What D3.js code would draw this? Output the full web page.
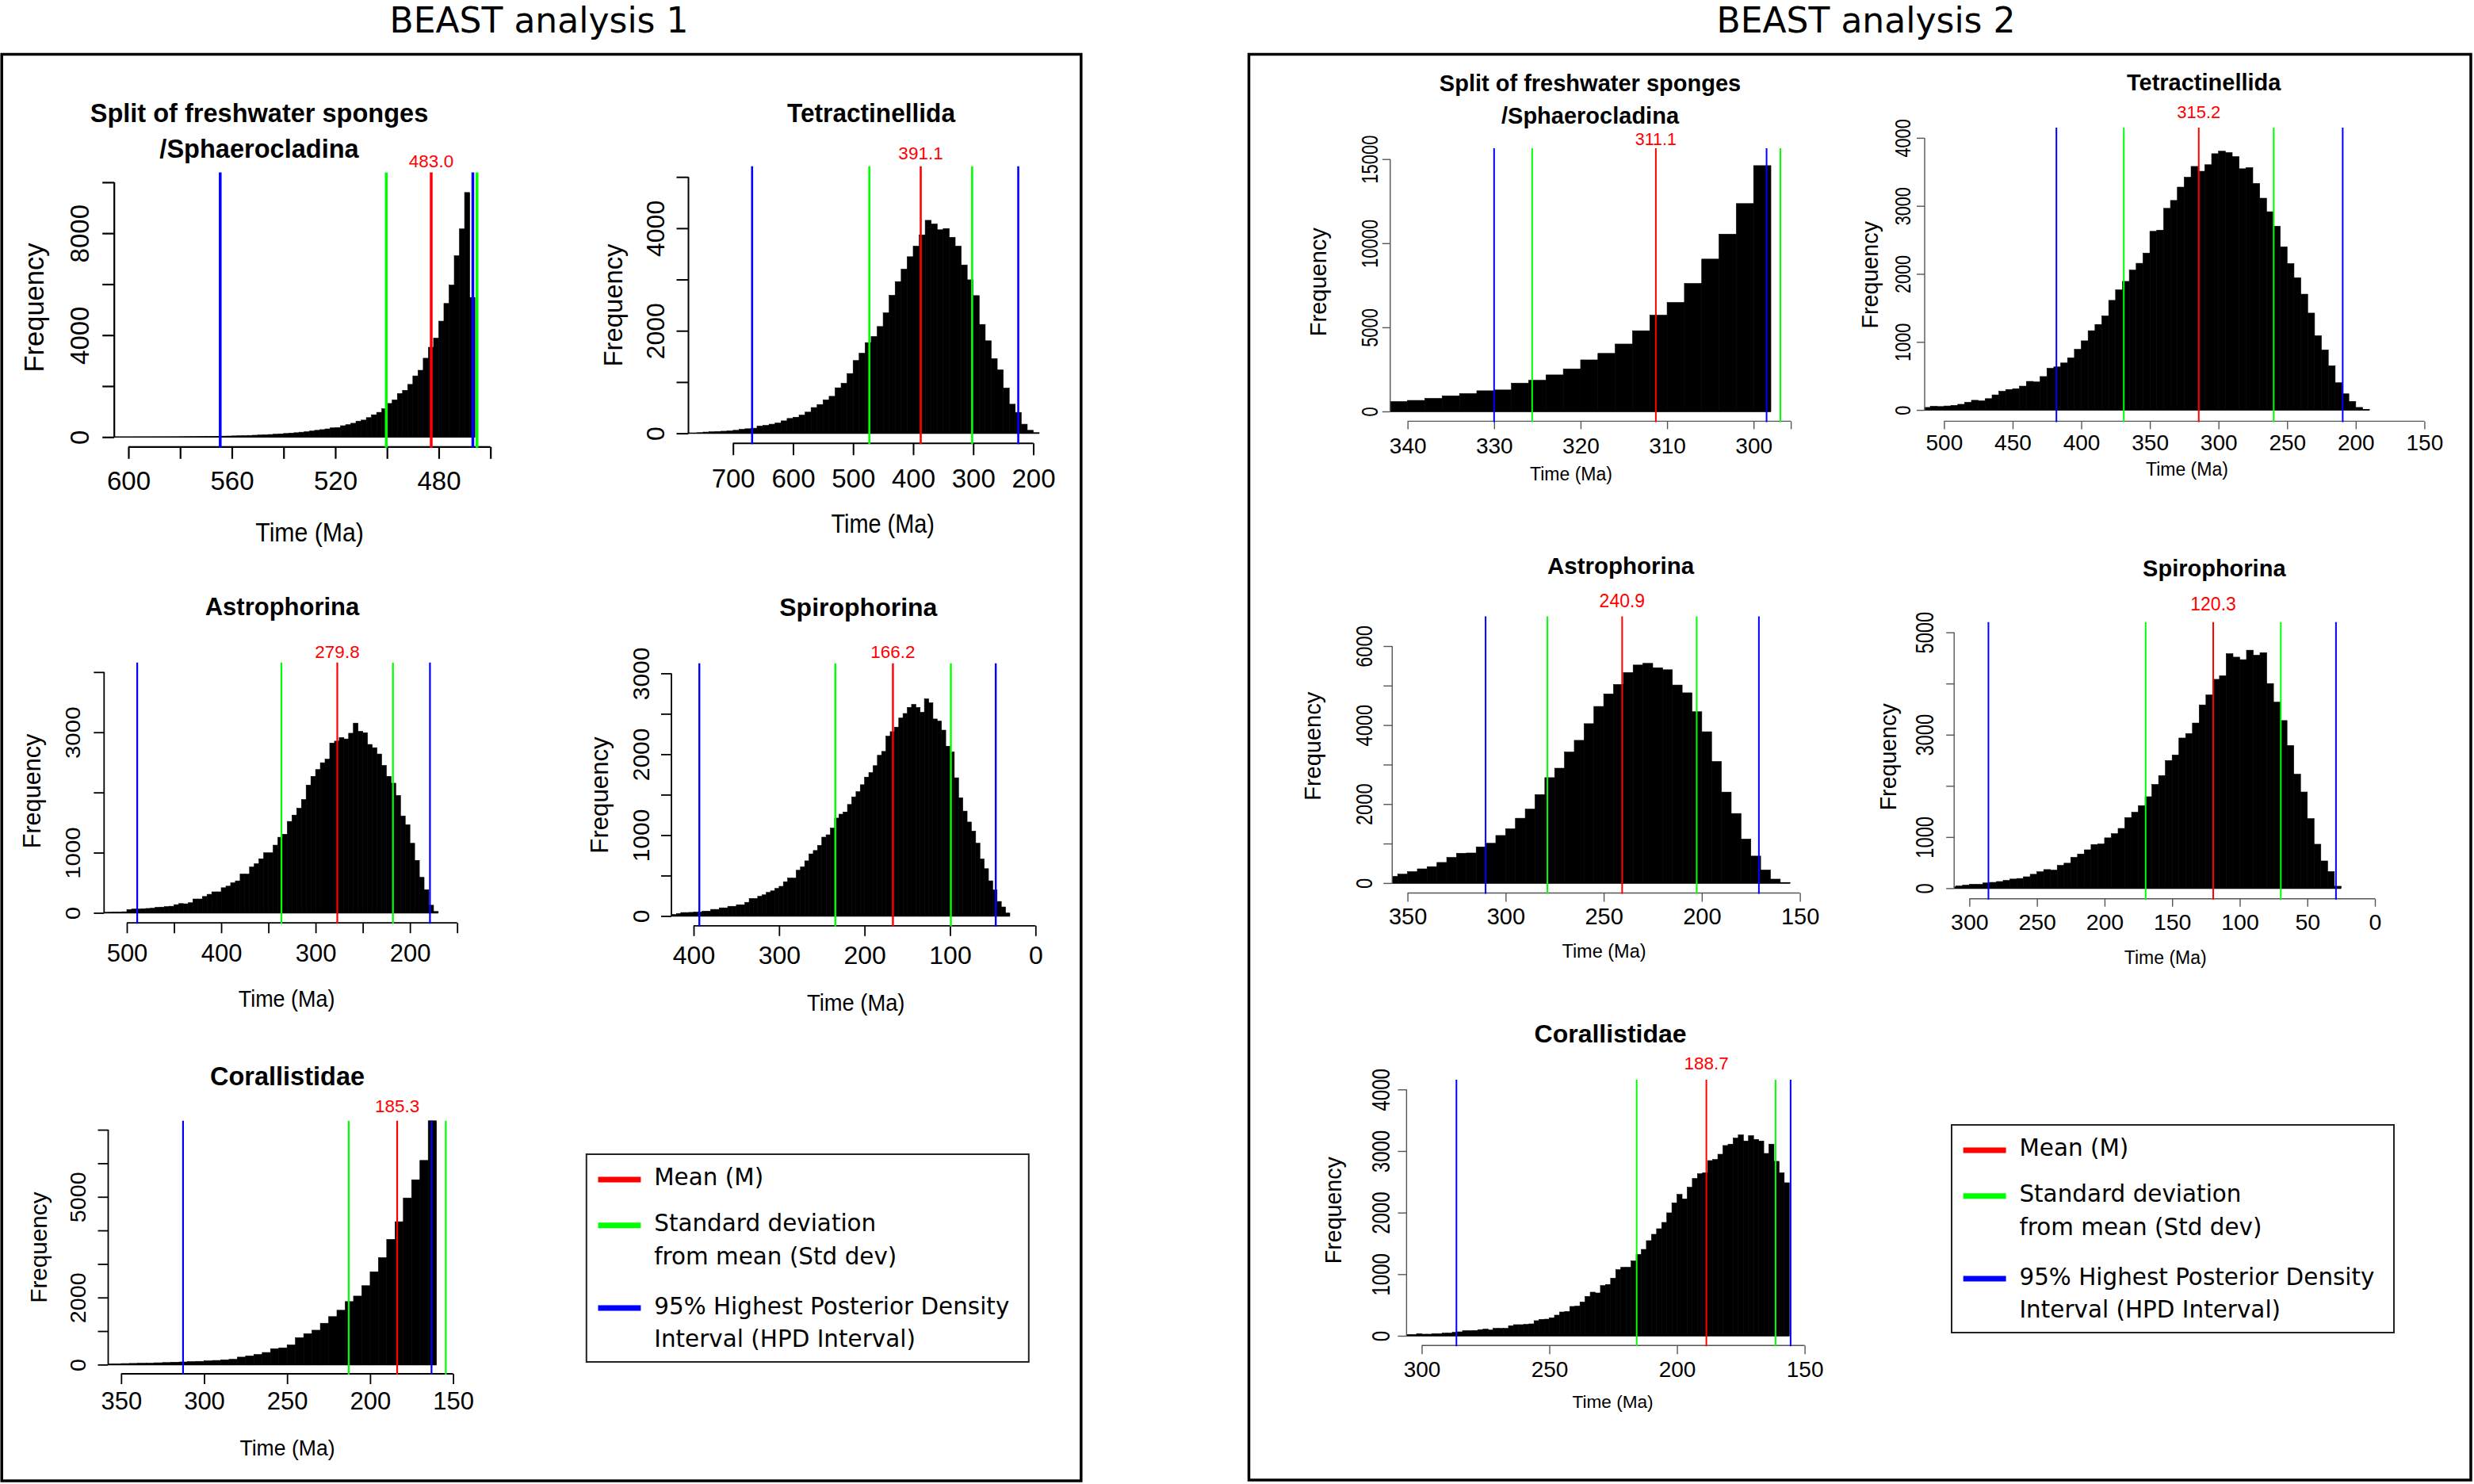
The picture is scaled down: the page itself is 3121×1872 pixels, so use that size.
<!DOCTYPE html>
<html>
<head>
<meta charset="utf-8">
<script src="https://cdnjs.cloudflare.com/ajax/libs/d3/7.8.5/d3.min.js"></script>
<style>
  html, body { margin: 0; padding: 0; background: #fff; }
  svg { display: block; }
</style>
</head>
<body>
<svg id="fig" width="3121" height="1872"></svg>
<script>
// ---------- data ----------
// bins: [oldest bin edge (Ma), bin width (Ma)], counts listed from oldest to youngest bin

// BEAST analysis 1
var a1SplitBins = [606, 2];
var a1SplitCounts = [1, 1, 2, 2, 3, 3, 4, 5, 6, 7, 8, 9, 10, 12, 14, 16, 18, 21, 24, 27, 31, 35, 40, 45, 50, 57, 64, 72, 80, 90,
  100, 112, 125, 140, 155, 170, 190, 208, 236, 264, 291, 319, 360, 374, 444, 485, 541, 624, 666, 763,
  874, 970, 1110, 1318, 1456, 1706, 1831, 2067, 2400, 2621, 3093, 3523, 3883, 4549, 5243, 5964, 7115, 8169, 9598, 5478];
var a1SplitHPD = [564.5, 466.8], a1SplitSD = [500.3, 465.2], a1SplitMean = 482.9;

var a1TetBins = [780, 10];
var a1TetCounts = [3, 6, 12, 24, 30, 36, 41, 47, 59, 77, 89, 100, 142, 154, 178, 201, 243, 290, 314, 355,
  414, 503, 562, 651, 722, 888, 976, 1166, 1420, 1562, 1769, 1888, 2083, 2349, 2692, 2959, 3201, 3444, 3651, 3870,
  4154, 4083, 3970, 3994, 3822, 3651, 3284, 2994, 2686, 2124, 1805, 1456, 1237, 882, 568, 408, 178, 59, 12];
var a1TetHPD = [668.2, 225], a1TetSD = [473, 301.8], a1TetMean = 387.4;

var a1AstBins = [525, 5];
var a1AstCounts = [9, 10, 14, 14, 18, 54, 63, 63, 68, 73, 77, 91, 95, 104, 110, 136, 154, 150, 168, 230,
  230, 272, 308, 349, 349, 417, 444, 499, 531, 644, 644, 762, 816, 898, 998, 998, 1125, 1256, 1306, 1519,
  1624, 1737, 1882, 2122, 2268, 2381, 2494, 2553, 2821, 2853, 2912, 2889, 2984, 3152, 3016, 2993, 2798, 2744, 2639, 2449,
  2268, 2154, 1950, 1610, 1465, 1156, 871, 590, 385, 127, 23];
var a1AstHPD = [489, 178.8], a1AstSD = [336.2, 218], a1AstMean = 277;

var a1SpiBins = [425, 5];
var a1SpiCounts = [19, 30, 43, 43, 45, 49, 49, 60, 60, 82, 82, 101, 101, 120, 120, 139, 139, 169, 217, 217,
  244, 262, 292, 311, 341, 367, 424, 469, 469, 566, 607, 682, 768, 810, 873, 975, 1004, 1087, 1211, 1259,
  1286, 1379, 1473, 1537, 1623, 1717, 1773, 1859, 1987, 2035, 2223, 2279, 2335, 2448, 2504, 2579, 2616, 2579, 2519, 2684,
  2635, 2436, 2410, 2298, 2099, 2028, 1709, 1462, 1297, 1162, 1049, 900, 705, 585, 435, 322, 180, 112, 37];
var a1SpiHPD = [393.3, 46.5], a1SpiSD = [234.2, 99], a1SpiMean = 166.8;

var a1CorBins = [360, 5];
var a1CorCounts = [22, 26, 32, 36, 42, 45, 55, 62, 72, 80, 90, 98, 112, 125, 142, 158, 224, 259, 302, 362,
  474, 500, 586, 802, 922, 1026, 1233, 1431, 1621, 1879, 2043, 2353, 2767, 3190, 3733, 4259, 4966, 5509, 6086, 7600];
var a1CorHPD = [312.7, 163], a1CorSD = [212.9, 154.4], a1CorMean = 183.7;

// BEAST analysis 2
var a2SplitBins = [342, 2];
var a2SplitCounts = [589, 657, 774, 926, 1061, 1229, 1279, 1684, 1852, 2172, 2525, 3064, 3451, 4007, 4798, 5724,
  6481, 7609, 9057, 10539, 12357, 14613];
var a2SplitHPD = [330.0, 298.5], a2SplitSD = [325.6, 296.9], a2SplitMean = 311.3;

var a2TetBins = [515, 5];
var a2TetCounts = [37, 54, 50, 58, 67, 83, 112, 142, 133, 166, 221, 275, 300, 312, 350, 420, 412, 491, 612, 633,
  691, 766, 891, 1016, 1165, 1257, 1382, 1611, 1765, 1890, 2056, 2156, 2306, 2626, 2643, 2964, 3080, 3276, 3421, 3580,
  3509, 3605, 3767, 3804, 3784, 3725, 3546, 3563, 3330, 3113, 2914, 2701, 2398, 2152, 1944, 1702, 1424, 1091, 882, 649,
  400, 237, 125, 37, 8];
var a2TetHPD = [418.1, 209.5], a2TetSD = [369, 259.8], a2TetMean = 314.4;

var a2AstBins = [360, 5];
var a2AstCounts = [169, 225, 289, 359, 415, 521, 648, 754, 761, 915, 1007, 1204, 1373, 1641, 1873, 2239, 2669, 2908, 3317, 3613,
  4035, 4472, 4789, 5028, 5331, 5521, 5563, 5451, 5401, 5014, 4817, 4338, 3831, 3077, 2303, 1761, 1113, 683, 331, 99, 14];
var a2AstHPD = [310.2, 170.9], a2AstSD = [278.7, 202.6], a2AstMean = 240.6;

var a2SpiBins = [315, 5];
var a2SpiCounts = [27, 43, 60, 76, 76, 103, 114, 130, 152, 179, 190, 223, 272, 321, 364, 353, 446, 489, 603, 668,
  750, 853, 864, 984, 1065, 1168, 1380, 1484, 1614, 1788, 2027, 2201, 2495, 2603, 2935, 3022, 3228, 3582, 3777, 4082,
  4152, 4582, 4516, 4467, 4652, 4554, 4603, 4000, 3636, 3277, 2788, 2228, 1880, 1359, 859, 533, 326, 38];
var a2SpiHPD = [285.9, 28.8], a2SpiSD = [169.6, 69.6], a2SpiMean = 119.6;

var a2CorBins = [306, 2];
var a2CorCounts = [21, 21, 34, 26, 26, 34, 34, 43, 43, 56, 64, 82, 82, 86, 99, 107, 94, 120, 120, 120,
  163, 180, 180, 185, 193, 245, 266, 270, 292, 335, 386, 395, 476, 481, 549, 639, 708, 695, 815, 833,
  936, 1073, 1112, 1112, 1215, 1322, 1403, 1545, 1648, 1738, 1841, 1996, 2159, 2296, 2223, 2412, 2554, 2631, 2648, 2845,
  2863, 2948, 3090, 3112, 3210, 3262, 3163, 3249, 3189, 3163, 2961, 3112, 2833, 2648, 2485];
var a2CorHPD = [286.4, 155.5], a2CorSD = [215.8, 161.4], a2CorMean = 188.5;

// texts
var analysisTitles = ['BEAST analysis 1', 'BEAST analysis 2'];
var splitTitle = ['Split of freshwater sponges', '/Sphaerocladina'];
var meanLabels1 = ['483.0', '391.1', '279.8', '166.2', '185.3'];
var meanLabels2 = ['311.1', '315.2', '240.9', '120.3', '188.7'];
var legendText = [['Mean (M)'], ['Standard deviation', 'from mean (Std dev)'], ['95% Highest Posterior Density', 'Interval (HPD Interval)']];

// tick values and tick labels
var a1SplitXTicks = [600, 580, 560, 540, 520, 500, 480, 460], a1SplitXLab = [600, 560, 520, 480];
var a1SplitYTicks = [0, 2000, 4000, 6000, 8000, 10000], a1SplitYLab = [0, 4000, 8000];
var a1TetXTicks = [700, 600, 500, 400, 300, 200], a1TetXLab = [700, 600, 500, 400, 300, 200];
var a1TetYTicks = [0, 1000, 2000, 3000, 4000, 5000], a1TetYLab = [0, 2000, 4000];
var a1AstXTicks = [500, 450, 400, 350, 300, 250, 200, 150], a1AstXLab = [500, 400, 300, 200];
var a1AstYTicks = [0, 1000, 2000, 3000, 4000], a1AstYLab = [0, 1000, 3000];
var a1SpiXTicks = [400, 300, 200, 100, 0], a1SpiXLab = [400, 300, 200, 100, 0];
var a1SpiYTicks = [0, 500, 1000, 1500, 2000, 2500, 3000], a1SpiYLab = [0, 1000, 2000, 3000];
var a1CorXTicks = [350, 300, 250, 200, 150], a1CorXLab = [350, 300, 250, 200, 150];
var a1CorYTicks = [0, 1000, 2000, 3000, 4000, 5000, 6000, 7000], a1CorYLab = [0, 2000, 5000];
var a2SplitXTicks = [340, 330, 320, 310, 300, 295.7], a2SplitXLab = [340, 330, 320, 310, 300];
var a2SplitYTicks = [0, 5000, 10000, 15000], a2SplitYLab = [0, 5000, 10000, 15000];
var a2TetXTicks = [500, 450, 400, 350, 300, 250, 200, 150], a2TetXLab = [500, 450, 400, 350, 300, 250, 200, 150];
var a2TetYTicks = [0, 1000, 2000, 3000, 4000], a2TetYLab = [0, 1000, 2000, 3000, 4000];
var a2AstXTicks = [350, 300, 250, 200, 150], a2AstXLab = [350, 300, 250, 200, 150];
var a2AstYTicks = [0, 1000, 2000, 3000, 4000, 5000, 6000], a2AstYLab = [0, 2000, 4000, 6000];
var a2SpiXTicks = [300, 250, 200, 150, 100, 50, 0], a2SpiXLab = [300, 250, 200, 150, 100, 50, 0];
var a2SpiYTicks = [0, 1000, 2000, 3000, 4000, 5000], a2SpiYLab = [0, 1000, 3000, 5000];
var a2CorXTicks = [300, 250, 200, 150], a2CorXLab = [300, 250, 200, 150];
var a2CorYTicks = [0, 1000, 2000, 3000, 4000], a2CorYLab = [0, 1000, 2000, 3000, 4000];

// ---------- drawing ----------
var RFONT = '"Liberation Sans", Arial, Helvetica, sans-serif';
var DFONT = '"DejaVu Sans", Verdana, sans-serif';
var RED = '#ff0000', GREEN = '#00ff00', BLUE = '#0000ff';

var svg = d3.select('#fig');
svg.append('rect').attr('width', 3121).attr('height', 1872).attr('fill', '#fff');

function txt(g, x, y, str, o) {
  return g.append('text')
    .attr('transform', 'translate(' + x + ',' + y + ')' + (o.rot ? ' rotate(' + o.rot + ')' : '') +
      ' scale(' + (o.sx || 1) + ',' + (o.sy || 1) + ')')
    .attr('text-anchor', o.anchor || 'middle')
    .attr('font-family', o.family || RFONT)
    .attr('font-size', o.size)
    .attr('font-weight', o.weight || 'normal')
    .attr('fill', o.fill || '#000')
    .text(str);
}

function drawHist(p) {
  var g = svg.append('g');
  var xs = d3.scaleLinear().domain([p.x[0], p.x[2]]).range([p.x[1], p.x[3]]);
  var ys = d3.scaleLinear().domain([p.y[0], p.y[2]]).range([p.y[1], p.y[3]]);
  var axCol = p.axisCol || '#000', axW = p.axisW || 2;

  // histogram bars
  var bars = p.counts.map(function (c, i) {
    return { hi: p.bins[0] - i * p.bins[1], lo: p.bins[0] - (i + 1) * p.bins[1], c: c };
  });
  g.append('g').selectAll('rect').data(bars).join('rect')
    .attr('x', function (d) { return Math.max(xs(d.hi), p.yAxisX); })
    .attr('width', function (d) { return Math.max(0, xs(d.lo) - Math.max(xs(d.hi), p.yAxisX)); })
    .attr('y', function (d) { return Math.max(ys(d.c), p.top); })
    .attr('height', function (d) { return ys(0) - Math.max(ys(d.c), p.top); })
    .attr('fill', '#000').attr('stroke', '#000').attr('stroke-width', 0.6);
  g.append('line')
    .attr('x1', p.yAxisX).attr('x2', xs(bars[bars.length - 1].lo))
    .attr('y1', ys(0)).attr('y2', ys(0))
    .attr('stroke', '#000').attr('stroke-width', 1.5);

  // x axis
  var xAxis = d3.axisBottom(xs).tickValues(p.xTicks).tickSize(p.tick).tickSizeOuter(0)
    .tickFormat(function (d) { return p.xLab.indexOf(d) >= 0 ? String(d) : ''; });
  var gx = g.append('g').attr('transform', 'translate(0,' + p.xAxisY + ')').call(xAxis);
  gx.select('.domain').remove();
  gx.append('line')
    .attr('x1', xs(p.xTicks[0])).attr('x2', xs(p.xTicks[p.xTicks.length - 1]))
    .attr('stroke', axCol).attr('stroke-width', axW);
  gx.selectAll('.tick line').attr('stroke', axCol).attr('stroke-width', axW);
  gx.selectAll('.tick text')
    .attr('y', p.xLabY - p.xAxisY).attr('dy', null)
    .attr('font-size', p.tickFs).attr('font-family', RFONT).attr('fill', '#000');

  // y axis
  var k = p.yLabK || 1;
  var yAxis = d3.axisLeft(ys).tickValues(p.yTicks).tickSize(p.tick).tickSizeOuter(0)
    .tickFormat(function (d) { return p.yLab.indexOf(d) >= 0 ? String(d) : ''; });
  var gy = g.append('g').attr('transform', 'translate(' + p.yAxisX + ',0)').call(yAxis);
  gy.select('.domain').remove();
  gy.append('line')
    .attr('y1', ys(p.yTicks[0])).attr('y2', ys(p.yTicks[p.yTicks.length - 1]))
    .attr('stroke', axCol).attr('stroke-width', axW);
  gy.selectAll('.tick line').attr('stroke', axCol).attr('stroke-width', axW);
  gy.selectAll('.tick text')
    .attr('x', null).attr('dy', null)
    .attr('transform', 'translate(' + (p.yLabX - p.yAxisX + 0.358 * p.yLabFs * k) + ',0) rotate(-90) scale(1,' + k + ')')
    .attr('text-anchor', 'middle')
    .attr('font-size', p.yLabFs).attr('font-family', RFONT).attr('fill', '#000');

  // mean / standard deviation / HPD lines
  var vlines = [[p.hpd[0], BLUE], [p.hpd[1], BLUE], [p.sd[0], GREEN], [p.sd[1], GREEN], [p.mean, RED]];
  g.append('g').selectAll('line').data(vlines).join('line')
    .attr('x1', function (d) { return xs(d[0]); }).attr('x2', function (d) { return xs(d[0]); })
    .attr('y1', p.top).attr('y2', p.xAxisY + 1)
    .attr('stroke', function (d) { return d[1]; }).attr('stroke-width', p.lw);
  txt(g, xs(p.mean), p.meanY, p.meanLabel, { size: p.meanFs, fill: RED });

  // titles and axis labels
  p.title.forEach(function (t, i) {
    txt(g, p.titleX, p.titleY[i], t, { size: p.titleFs, weight: 'bold', sx: p.titleSx || 1 });
  });
  txt(g, p.timeX, p.timeY, 'Time (Ma)', { size: p.timeFs, sx: p.timeSx || 1 });
  txt(g, p.freqX + 0.3 * p.freqFs, p.freqY, 'Frequency', { size: p.freqFs, rot: -90 });
}

function drawLegend(x0, y0) {
  var g = svg.append('g').attr('transform', 'translate(' + x0 + ',' + y0 + ')');
  g.append('rect').attr('width', 558).attr('height', 262)
    .attr('fill', 'none').attr('stroke', '#222').attr('stroke-width', 2);
  var cols = [RED, GREEN, BLUE];
  var swY = [32, 89.7, 194];
  var baseY = [[39], [97.3, 139], [202.3, 243.3]];
  legendText.forEach(function (lines, i) {
    g.append('line').attr('x1', 14.7).attr('x2', 68.6).attr('y1', swY[i]).attr('y2', swY[i])
      .attr('stroke', cols[i]).attr('stroke-width', 7);
    lines.forEach(function (s, j) {
      txt(g, 85.4, baseY[i][j], s, { size: 31, anchor: 'start', family: DFONT, sx: 0.95 });
    });
  });
}

// outer frames and headings
svg.append('rect').attr('x', 2.2).attr('y', 68.5).attr('width', 1361.6).attr('height', 1799.5)
  .attr('fill', 'none').attr('stroke', '#000').attr('stroke-width', 3.5);
svg.append('rect').attr('x', 1575.5).attr('y', 68.5).attr('width', 1541.5).attr('height', 1798.5)
  .attr('fill', 'none').attr('stroke', '#000').attr('stroke-width', 3.5);
txt(svg, 680, 41, analysisTitles[0], { size: 44, family: DFONT, sx: 1 });
txt(svg, 2354, 41, analysisTitles[1], { size: 44, family: DFONT, sx: 1 });

var panels = [
  // BEAST analysis 1
  { bins: a1SplitBins, counts: a1SplitCounts, hpd: a1SplitHPD, sd: a1SplitSD, mean: a1SplitMean, meanLabel: meanLabels1[0],
    xTicks: a1SplitXTicks, xLab: a1SplitXLab, yTicks: a1SplitYTicks, yLab: a1SplitYLab, title: splitTitle,
    x: [600, 162.0, 460, 618.7], y: [0, 551.3, 10000, 229.9], yAxisX: 144.2, xAxisY: 563.8, top: 217.4, tick: 15,
    tickFs: 33, xLabY: 618.3, yLabX: 100.4, yLabFs: 33, timeX: 390.6, timeY: 683, timeFs: 34, timeSx: 0.89,
    freqX: 44.6, freqY: 388, freqFs: 34.5, titleX: 327, titleY: [154, 198.7], titleFs: 34, titleSx: 0.957,
    meanY: 210.7, meanFs: 22.5, lw: 3.5, axisW: 2.2 },
  { bins: a1TetBins, counts: a1TetCounts, hpd: a1TetHPD, sd: a1TetSD, mean: a1TetMean, meanLabel: meanLabels1[1],
    xTicks: a1TetXTicks, xLab: a1TetXLab, yTicks: a1TetYTicks, yLab: a1TetYLab, title: ['Tetractinellida'],
    x: [700, 924.7, 200, 1303.5], y: [0, 546.6, 5000, 223.2], yAxisX: 868.5, xAxisY: 559.2, top: 209.8, tick: 15,
    tickFs: 33, xLabY: 614.7, yLabX: 827, yLabFs: 32, timeX: 1113.7, timeY: 672, timeFs: 34, timeSx: 0.85,
    freqX: 775.6, freqY: 385, freqFs: 32.8, titleX: 1099, titleY: [153.6], titleFs: 34, titleSx: 0.93,
    meanY: 200.6, meanFs: 22.5, lw: 2.6, axisW: 2 },
  { bins: a1AstBins, counts: a1AstCounts, hpd: a1AstHPD, sd: a1AstSD, mean: a1AstMean, meanLabel: meanLabels1[2],
    xTicks: a1AstXTicks, xLab: a1AstXLab, yTicks: a1AstYTicks, yLab: a1AstYLab, title: ['Astrophorina'],
    x: [500, 160, 150, 576.7], y: [0, 1151.5, 4000, 847.8], yAxisX: 131.3, xAxisY: 1164.2, top: 835.7, tick: 13,
    tickFs: 31, xLabY: 1213.5, yLabX: 91.8, yLabFs: 29.5, yLabK: 0.9, timeX: 361.6, timeY: 1270, timeFs: 29, timeSx: 0.93,
    freqX: 42, freqY: 998, freqFs: 30.6, titleX: 356, titleY: [776], titleFs: 31,
    meanY: 830, meanFs: 22.5, lw: 2.2, axisW: 1.8 },
  { bins: a1SpiBins, counts: a1SpiCounts, hpd: a1SpiHPD, sd: a1SpiSD, mean: a1SpiMean, meanLabel: meanLabels1[3],
    xTicks: a1SpiXTicks, xLab: a1SpiXLab, yTicks: a1SpiYTicks, yLab: a1SpiYLab, title: ['Spirophorina'],
    x: [400, 875, 0, 1306.3], y: [0, 1155.5, 3000, 849.4], yAxisX: 847, xAxisY: 1167.8, top: 836.7, tick: 13,
    tickFs: 32, xLabY: 1215.6, yLabX: 808, yLabFs: 30, timeX: 1079.7, timeY: 1275, timeFs: 29.4, timeSx: 0.93,
    freqX: 758, freqY: 1003, freqFs: 31.2, titleX: 1082.8, titleY: [777.4], titleFs: 32,
    meanY: 829.8, meanFs: 22.5, lw: 2.4, axisW: 1.8 },
  { bins: a1CorBins, counts: a1CorCounts, hpd: a1CorHPD, sd: a1CorSD, mean: a1CorMean, meanLabel: meanLabels1[4],
    xTicks: a1CorXTicks, xLab: a1CorXLab, yTicks: a1CorYTicks, yLab: a1CorYLab, title: ['Corallistidae'],
    x: [350, 152.8, 150, 571.6], y: [0, 1721.4, 7000, 1425.1], yAxisX: 136.5, xAxisY: 1733, top: 1413.8, tick: 13,
    tickFs: 31, xLabY: 1778, yLabX: 98, yLabFs: 28.7, yLabK: 0.94, timeX: 362.5, timeY: 1836.3, timeFs: 28, timeSx: 0.95,
    freqX: 50, freqY: 1573.6, freqFs: 29.7, titleX: 362.5, titleY: [1369.3], titleFs: 32.5,
    meanY: 1402.9, meanFs: 22.5, lw: 2.2, axisW: 1.8 },
  // BEAST analysis 2
  { bins: a2SplitBins, counts: a2SplitCounts, hpd: a2SplitHPD, sd: a2SplitSD, mean: a2SplitMean, meanLabel: meanLabels2[0],
    xTicks: a2SplitXTicks, xLab: a2SplitXLab, yTicks: a2SplitYTicks, yLab: a2SplitYLab, title: splitTitle,
    x: [340, 1775.7, 300, 2212.2], y: [0, 519, 15000, 200.7], yAxisX: 1753.8, xAxisY: 531.4, top: 187, tick: 10,
    tickFs: 28, xLabY: 571.8, yLabX: 1727, yLabFs: 22, yLabK: 1.35, timeX: 1982, timeY: 605.7, timeFs: 23,
    freqX: 1664, freqY: 355.7, freqFs: 29, titleX: 2006, titleY: [114.6, 155.7], titleFs: 29,
    meanY: 182.5, meanFs: 21.5, lw: 2, axisCol: '#555', axisW: 1.4 },
  { bins: a2TetBins, counts: a2TetCounts, hpd: a2TetHPD, sd: a2TetSD, mean: a2TetMean, meanLabel: meanLabels2[1],
    xTicks: a2TetXTicks, xLab: a2TetXLab, yTicks: a2TetYTicks, yLab: a2TetYLab, title: ['Tetractinellida'],
    x: [500, 2452.4, 150, 3058.4], y: [0, 517.1, 4000, 173.9], yAxisX: 2428, xAxisY: 531.4, top: 161, tick: 10,
    tickFs: 28, xLabY: 568.2, yLabX: 2399.7, yLabFs: 21.7, yLabK: 1.28, timeX: 2758.9, timeY: 600.4, timeFs: 23,
    freqX: 2359.9, freqY: 346.8, freqFs: 28.7, titleX: 2780.2, titleY: [113.6], titleFs: 29,
    meanY: 149.3, meanFs: 22, lw: 2, axisCol: '#555', axisW: 1.4 },
  { bins: a2AstBins, counts: a2AstCounts, hpd: a2AstHPD, sd: a2AstSD, mean: a2AstMean, meanLabel: meanLabels2[2],
    xTicks: a2AstXTicks, xLab: a2AstXLab, yTicks: a2AstYTicks, yLab: a2AstYLab, title: ['Astrophorina'],
    x: [350, 1775.6, 150, 2270.6], y: [0, 1113.9, 6000, 815], yAxisX: 1756.3, xAxisY: 1126.5, top: 777.5, tick: 11,
    tickFs: 29, xLabY: 1165.8, yLabX: 1720.5, yLabFs: 23.7, yLabK: 1.24, timeX: 2023.5, timeY: 1207.9, timeFs: 23.5,
    freqX: 1657.4, freqY: 941.3, freqFs: 29, titleX: 2044.6, titleY: [723.8], titleFs: 29.5,
    meanY: 766, meanFs: 23, lw: 2, axisCol: '#555', axisW: 1.4 },
  { bins: a2SpiBins, counts: a2SpiCounts, hpd: a2SpiHPD, sd: a2SpiSD, mean: a2SpiMean, meanLabel: meanLabels2[3],
    xTicks: a2SpiXTicks, xLab: a2SpiXLab, yTicks: a2SpiYTicks, yLab: a2SpiYLab, title: ['Spirophorina'],
    x: [300, 2484.4, 0, 2996], y: [0, 1120.4, 5000, 797.7], yAxisX: 2465.2, xAxisY: 1133.7, top: 784.7, tick: 10,
    tickFs: 28.5, xLabY: 1173.3, yLabX: 2428, yLabFs: 23.7, yLabK: 1.3, timeX: 2731.7, timeY: 1216, timeFs: 23,
    freqX: 2383.5, freqY: 954.8, freqFs: 28.6, titleX: 2793.3, titleY: [726.8], titleFs: 29,
    meanY: 770, meanFs: 23, lw: 2, axisCol: '#555', axisW: 1.4 },
  { bins: a2CorBins, counts: a2CorCounts, hpd: a2CorHPD, sd: a2CorSD, mean: a2CorMean, meanLabel: meanLabels2[4],
    xTicks: a2CorXTicks, xLab: a2CorXLab, yTicks: a2CorYTicks, yLab: a2CorYLab, title: ['Corallistidae'],
    x: [300, 1793.5, 150, 2276.6], y: [0, 1685, 4000, 1374.3], yAxisX: 1774.4, xAxisY: 1697.3, top: 1362, tick: 11,
    tickFs: 28, xLabY: 1737.3, yLabX: 1741.9, yLabFs: 24, yLabK: 1.32, timeX: 2034.6, timeY: 1776, timeFs: 22.6,
    freqX: 1683.4, freqY: 1526.7, freqFs: 28.6, titleX: 2031.6, titleY: [1315], titleFs: 32,
    meanY: 1349, meanFs: 22.5, lw: 2, axisCol: '#555', axisW: 1.4 }
];

panels.forEach(drawHist);
drawLegend(739.8, 1456);
drawLegend(2462, 1419);
</script>
</body>
</html>
